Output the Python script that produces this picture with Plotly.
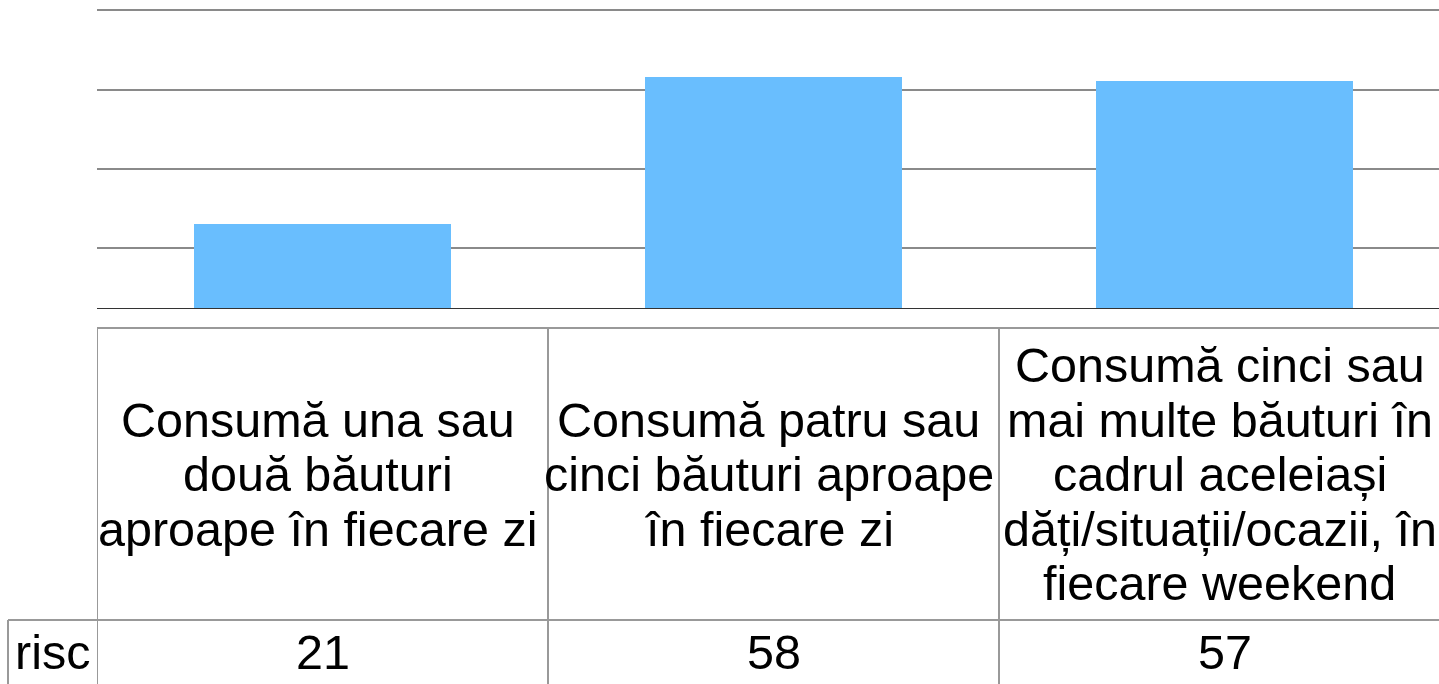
import plotly.graph_objects as go

# ---- data ----
categories = [
    "Consumă una sau<br>două băuturi<br>aproape în fiecare zi",
    "Consumă patru sau<br>cinci băuturi aproape<br>în fiecare zi",
    "Consumă cinci sau<br>mai multe băuturi în<br>cadrul aceleiași<br>dăți/situații/ocazii, în<br>fiecare weekend",
]
series_name = "risc"
values = [21, 58, 57]
grid_values = [15, 35, 55, 75]

# ---- layout geometry (pixels) ----
W, H = 1439, 684
plot_left = 97
cat_px = 451
base_px = 308
px_per_unit = 3.97
ymax = 77
table_top = 328
row_split = 620
label_left = 8
font_size = 48.5
line_gap = 54.5
text_xshift = -5
FONT = "Liberation Sans, Arial, sans-serif"
GRID = "#8a8a8a"
TABLE = "#999999"


def py(p):
    return 1 - p / H


x_idx = list(range(len(values)))
xmax = -0.5 + (W - plot_left) / cat_px
top_px = base_px - ymax * px_per_unit

fig = go.Figure()
fig.add_trace(go.Bar(
    x=x_idx, y=values, name=series_name,
    marker=dict(color="#69befe", line=dict(width=0)),
    width=257 / cat_px,
    hoverinfo="skip",
))

shapes = []
annotations = []

# table borders
shapes.append(dict(type="line", xref="paper", yref="paper",
                   x0=plot_left / W, x1=1, y0=py(table_top), y1=py(table_top),
                   line=dict(color=TABLE, width=2)))
shapes.append(dict(type="line", xref="paper", yref="paper",
                   x0=label_left / W, x1=1, y0=py(row_split), y1=py(row_split),
                   line=dict(color=TABLE, width=2)))
shapes.append(dict(type="line", xref="paper", yref="paper",
                   x0=label_left / W, x1=label_left / W, y0=py(row_split), y1=0,
                   line=dict(color=TABLE, width=2)))
for i in x_idx:
    shapes.append(dict(type="line", xref="x", yref="paper",
                       x0=i - 0.5, x1=i - 0.5, y0=py(table_top), y1=0,
                       line=dict(color=TABLE, width=2)))

# category text
cell_center = (table_top + row_split) / 2
for i, cat in enumerate(categories):
    lines = cat.split("<br>")
    n = len(lines)
    for k, ln in enumerate(lines):
        yc = cell_center + (k - (n - 1) / 2) * line_gap
        annotations.append(dict(
            x=i, y=py(yc), xref="x", yref="paper", text=ln, showarrow=False,
            xanchor="center", yanchor="middle", xshift=text_xshift,
            font=dict(family=FONT, size=font_size, color="#000000")))
    annotations.append(dict(
        x=i, y=py(652), xref="x", yref="paper", text=str(values[i]),
        showarrow=False, xanchor="center", yanchor="middle",
        font=dict(family=FONT, size=font_size, color="#000000")))

annotations.append(dict(
    x=(label_left + plot_left) / 2 / W, y=py(652), xref="paper", yref="paper",
    text=series_name, showarrow=False, xanchor="center", yanchor="middle",
    font=dict(family=FONT, size=font_size, color="#000000")))

fig.update_layout(
    width=W, height=H, autosize=False,
    margin=dict(l=0, r=0, t=0, b=0, pad=0),
    paper_bgcolor="white", plot_bgcolor="white",
    showlegend=False,
    bargap=0,
    xaxis=dict(domain=[plot_left / W, 1], range=[-0.5, xmax],
               showticklabels=False, showgrid=False, zeroline=False,
               showline=True, linecolor="#333333", linewidth=1, ticks="",
               fixedrange=True),
    yaxis=dict(domain=[py(base_px), py(top_px)], range=[0, ymax],
               tickvals=grid_values, showticklabels=False,
               showgrid=True, gridcolor=GRID, gridwidth=2,
               zeroline=False, showline=False, ticks="", fixedrange=True),
    shapes=shapes,
    annotations=annotations,
)

fig.write_html(
    "out.html",
    config={"displayModeBar": False},
    post_script="document.body.style.margin='0';document.body.style.overflow='hidden';",
)
